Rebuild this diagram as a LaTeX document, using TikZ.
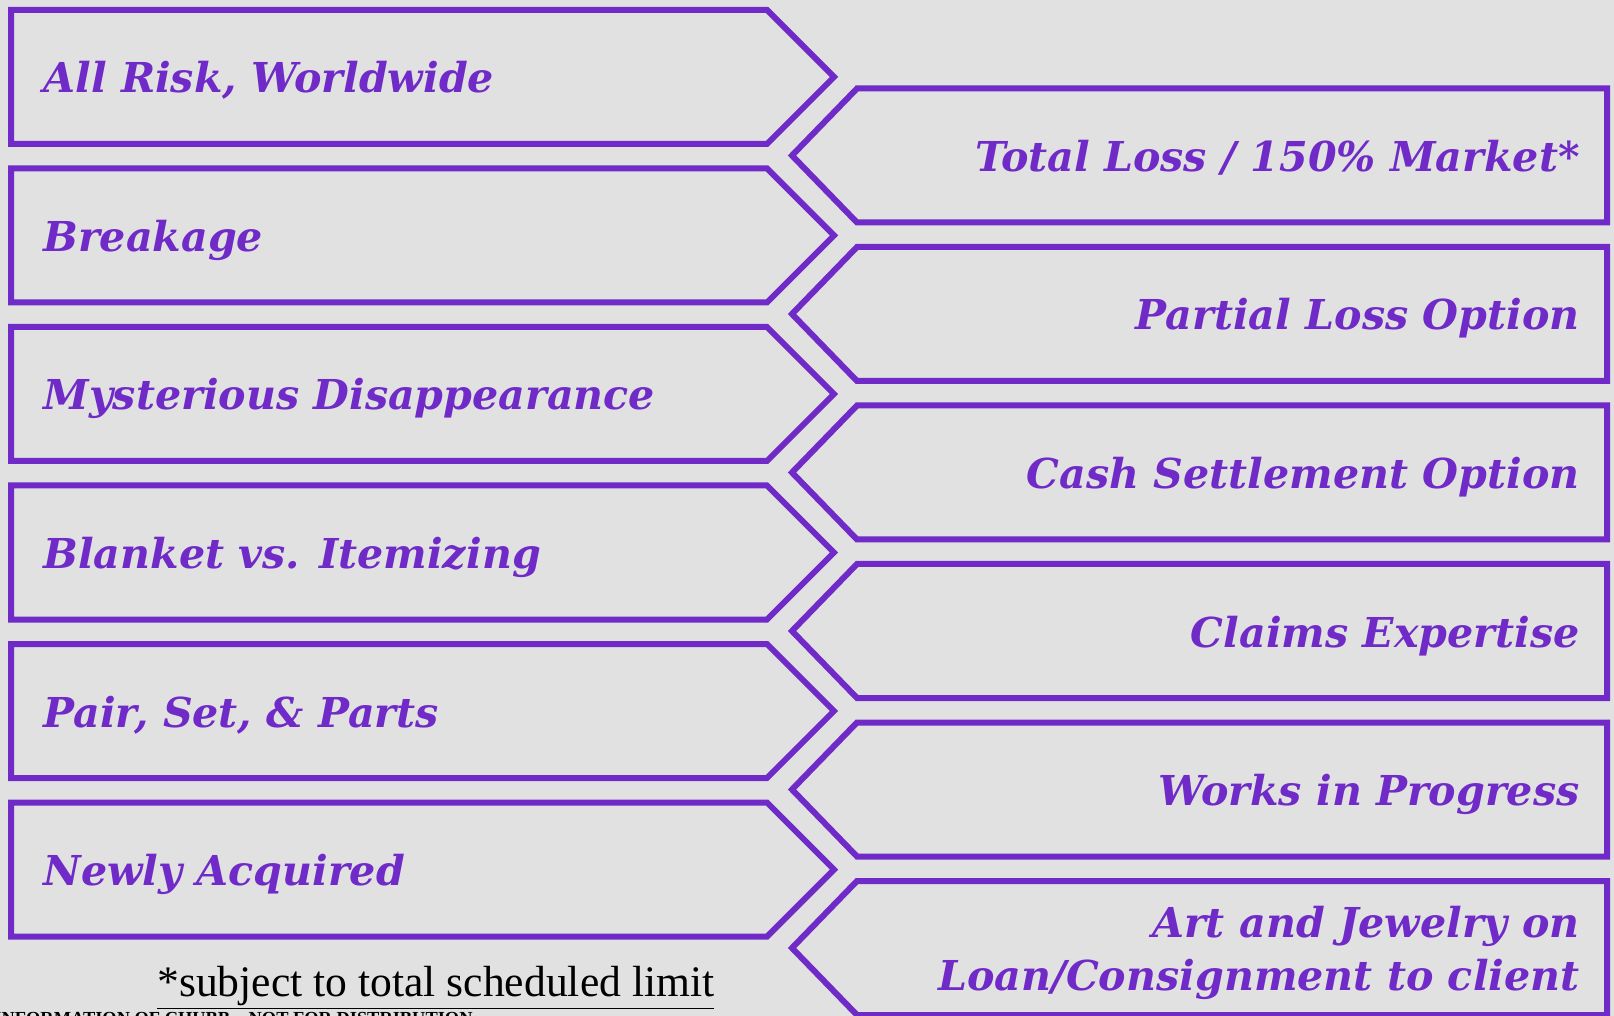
\documentclass[tikz,border=0pt]{standalone}
\usepackage{fontspec}
\newfontfamily\tabfont{DejaVu Serif}
\newfontfamily\notefont{Liberation Serif}
\definecolor{chubbPurple}{RGB}{111,42,199}
\definecolor{slideGray}{RGB}{225,225,225}

\begin{document}
\begin{tikzpicture}[x=0.5pt, y=-0.5pt,
        tab/.style={draw=chubbPurple, line width=3pt, line join=miter},
        tabText/.style={text=chubbPurple, inner sep=0pt, font=\tabfont\bfseries\itshape\fontsize{20.6}{26.5}\selectfont}]
    \fill[slideGray] (0,0) rectangle (1614,1016);
    \useasboundingbox (0,0) rectangle (1614,1016);

    % left column, pointing right
    \foreach \i/\txt in {0/{All Risk, Worldwide}, 1/Breakage, 2/Mysterious Disappearance,
            3/Blanket vs. Itemizing, 4/{Pair, Set, \& Parts}, 5/Newly Acquired} {
        \pgfmathsetmacro{\tabTop}{10+158.5*\i}
        \draw[tab] (11,\tabTop) -- (767,\tabTop) -- (834,{\tabTop+67}) -- (767,{\tabTop+134}) -- (11,{\tabTop+134}) -- cycle;
        \node[tabText, anchor=base west] (left\i) at (43,{\tabTop+83}) {\txt};
    }

    % right column, pointing left
    \foreach \i/\txt in {0/{Total Loss / 150\% Market*}, 1/Partial Loss Option, 2/Cash Settlement Option,
            3/Claims Expertise, 4/Works in Progress} {
        \pgfmathsetmacro{\tabTop}{88.5+158.5*\i}
        \draw[tab] (1607,\tabTop) -- (857,\tabTop) -- (792,{\tabTop+67}) -- (857,{\tabTop+134}) -- (1607,{\tabTop+134}) -- cycle;
        \node[tabText, anchor=base east] (right\i) at (1580,{\tabTop+83}) {\txt};
    }
    \draw[tab] (1607,881) -- (857,881) -- (792,948) -- (857,1015) -- (1607,1015) -- cycle;
    \node[tabText, anchor=east, align=right] (right5) at (1580,953) {Art and Jewelry on\\Loan/Consignment to client};

    \node[anchor=base west, inner sep=0pt, font=\notefont\fontsize{21.8}{26}\selectfont] (note) at (157,996)
        {\underline{*subject to total scheduled limit}};
    \node[anchor=base east, inner sep=0pt, font=\notefont\bfseries\fontsize{9.2}{11}\selectfont] (confidential) at (473,1024)
        {CONFIDENTIAL INFORMATION OF CHUBB – NOT FOR DISTRIBUTION};
\end{tikzpicture}
\end{document}
